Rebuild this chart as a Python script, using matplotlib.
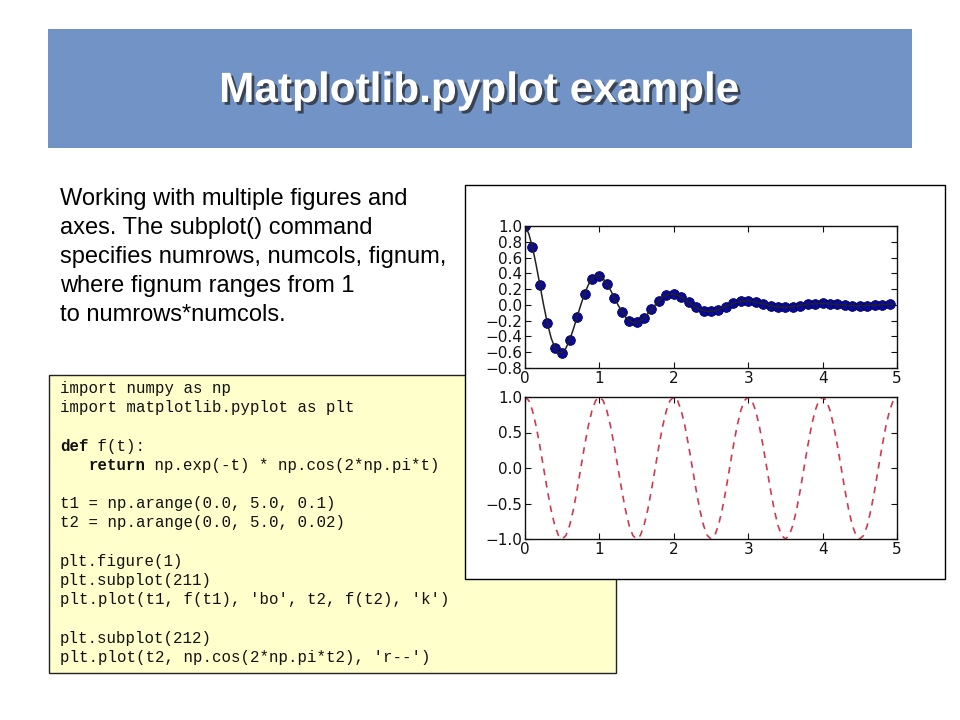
import matplotlib
matplotlib.use("Agg")
import matplotlib.pyplot as plt
import matplotlib.patheffects as pe
from matplotlib.patches import Rectangle
import numpy as np

W, H = 960, 720

# --- data -----------------------------------------------------------------
t_dots = np.arange(0.0, 5.0, 0.1)
f_dots = [1.000, 0.732, 0.253, -0.229, -0.542, -0.607, -0.444, -0.154, 0.139, 0.329,
          0.368, 0.269, 0.093, -0.084, -0.200, -0.223, -0.163, -0.057, 0.051, 0.121,
          0.135, 0.099, 0.034, -0.031, -0.073, -0.082, -0.060, -0.021, 0.019, 0.044,
          0.050, 0.036, 0.013, -0.011, -0.027, -0.030, -0.022, -0.008, 0.007, 0.016,
          0.018, 0.013, 0.005, -0.004, -0.010, -0.011, -0.008, -0.003, 0.003, 0.006]

t_line = np.arange(0.0, 5.0, 0.05)
f_line = [1.000, 0.904, 0.732, 0.506, 0.253, 0.000, -0.229, -0.415, -0.542, -0.607,
          -0.607, -0.549, -0.444, -0.307, -0.154, 0.000, 0.139, 0.251, 0.329, 0.368,
          0.368, 0.333, 0.269, 0.186, 0.093, 0.000, -0.084, -0.152, -0.200, -0.223,
          -0.223, -0.202, -0.163, -0.113, -0.057, 0.000, 0.051, 0.092, 0.121, 0.135,
          0.135, 0.123, 0.099, 0.068, 0.034, 0.000, -0.031, -0.056, -0.073, -0.082,
          -0.082, -0.074, -0.060, -0.042, -0.021, 0.000, 0.019, 0.034, 0.044, 0.050,
          0.050, 0.045, 0.036, 0.025, 0.013, 0.000, -0.011, -0.021, -0.027, -0.030,
          -0.030, -0.027, -0.022, -0.015, -0.008, 0.000, 0.007, 0.013, 0.016, 0.018,
          0.018, 0.017, 0.013, 0.009, 0.005, 0.000, -0.004, -0.008, -0.010, -0.011,
          -0.011, -0.010, -0.008, -0.006, -0.003, 0.000, 0.003, 0.005, 0.006, 0.007]

cos_line = [1.0, 0.951, 0.809, 0.588, 0.309, 0.0, -0.309, -0.588, -0.809, -0.951,
            -1.0, -0.951, -0.809, -0.588, -0.309, 0.0, 0.309, 0.588, 0.809, 0.951,
            1.0, 0.951, 0.809, 0.588, 0.309, 0.0, -0.309, -0.588, -0.809, -0.951,
            -1.0, -0.951, -0.809, -0.588, -0.309, 0.0, 0.309, 0.588, 0.809, 0.951,
            1.0, 0.951, 0.809, 0.588, 0.309, 0.0, -0.309, -0.588, -0.809, -0.951,
            -1.0, -0.951, -0.809, -0.588, -0.309, 0.0, 0.309, 0.588, 0.809, 0.951,
            1.0, 0.951, 0.809, 0.588, 0.309, 0.0, -0.309, -0.588, -0.809, -0.951,
            -1.0, -0.951, -0.809, -0.588, -0.309, 0.0, 0.309, 0.588, 0.809, 0.951,
            1.0, 0.951, 0.809, 0.588, 0.309, 0.0, -0.309, -0.588, -0.809, -0.951,
            -1.0, -0.951, -0.809, -0.588, -0.309, 0.0, 0.309, 0.588, 0.809, 0.951]

x_ticks = [0, 1, 2, 3, 4, 5]
y_ticks_top = [-0.8, -0.6, -0.4, -0.2, 0.0, 0.2, 0.4, 0.6, 0.8, 1.0]
y_ticks_bot = [-1.0, -0.5, 0.0, 0.5, 1.0]

title = "Matplotlib.pyplot example"
body = ["Working with multiple figures and",
        "axes. The subplot() command",
        "specifies numrows, numcols, fignum,",
        "where fignum ranges from 1",
        "to numrows*numcols."]
code = ["import numpy as np",
        "import matplotlib.pyplot as plt",
        "",
        "def f(t):",
        "   return np.exp(-t) * np.cos(2*np.pi*t)",
        "",
        "t1 = np.arange(0.0, 5.0, 0.1)",
        "t2 = np.arange(0.0, 5.0, 0.02)",
        "",
        "plt.figure(1)",
        "plt.subplot(211)",
        "plt.plot(t1, f(t1), 'bo', t2, f(t2), 'k')",
        "",
        "plt.subplot(212)",
        "plt.plot(t2, np.cos(2*np.pi*t2), 'r--')"]
bold_words = ("def", "return")


def fx(px): return px / W
def fy(py): return 1 - py / H
def box(x0, y0, x1, y1, **kw):
    return Rectangle((fx(x0), fy(y1)), fx(x1) - fx(x0), (y1 - y0) / H,
                     transform=fig.transFigure, **kw)


fig = plt.figure(figsize=(W / 100, H / 100), dpi=100)
fig.patch.set_facecolor("white")

# title bar
fig.patches.append(box(48, 29, 912, 148, facecolor="#7193c6", edgecolor="none", zorder=0))
fig.text(fx(480), fy(91), title, ha="center", va="center", color="white",
         fontsize=30.5, fontweight="bold", family="Liberation Sans",
         path_effects=[pe.withSimplePatchShadow(offset=(2, -2), shadow_rgbFace="#222222", alpha=0.7)])

# body text
for i, line in enumerate(body):
    fig.text(fx(60), fy(205 + 29 * i), line, ha="left", va="baseline",
             fontsize=17, family="Liberation Sans", color="black")

# code box
fig.patches.append(box(49, 375, 616, 673, facecolor="#ffffcc", edgecolor="#222222",
                       linewidth=1, zorder=1))
code_fs = 11.3
char_w = 0.6 * code_fs / 72 * 100  # monospace advance in px
for i, line in enumerate(code):
    if not line:
        continue
    y = fy(393 + 19.2 * i)
    kw = dict(ha="left", va="baseline", fontsize=code_fs, family="Liberation Mono",
              color="#111111", zorder=2)
    lead = len(line) - len(line.lstrip())
    word = line.split()[0]
    if word in bold_words:
        fig.text(fx(60 + char_w * lead), y, word, fontweight="bold", **kw)
        fig.text(fx(60 + char_w * (lead + len(word))), y, line[lead + len(word):], **kw)
    else:
        fig.text(fx(60), y, line, **kw)

# chart frame
fig.patches.append(box(465, 185, 945, 579, facecolor="white", edgecolor="black",
                       linewidth=1, zorder=3))

ax1 = fig.add_axes([fx(525), fy(368), (897 - 525) / W, (368 - 226) / H], zorder=4)
ax2 = fig.add_axes([fx(525), fy(539), (897 - 525) / W, (539 - 397) / H], zorder=4)

ax1.plot(t_dots, f_dots, "o", color="#0a0a96", markersize=7, markeredgecolor="#000060",
         markeredgewidth=0.6)
ax1.plot(t_line, f_line, "-", color="#222222", linewidth=1.1)
ax1.set_ylim(-0.8, 1.0)
ax1.set_yticks(y_ticks_top)
ax1.set_yticklabels([f"{v:.1f}".replace("-", "\u2212") for v in y_ticks_top])

ax2.plot(t_line, cos_line, "--", color="#d0384e", linewidth=1.2, dashes=(4, 3.5))
ax2.set_ylim(-1.0, 1.0)
ax2.set_yticks(y_ticks_bot)
ax2.set_yticklabels([f"{v:.1f}".replace("-", "\u2212") for v in y_ticks_bot])

for ax in (ax1, ax2):
    ax.set_xlim(0, 5)
    ax.set_xticks(x_ticks)
    ax.set_xticklabels([str(v) for v in x_ticks])
    ax.set_facecolor("white")
    ax.tick_params(direction="in", top=True, right=True, length=4, width=0.8,
                   labelsize=11, pad=2, colors="#111111")
    for s in ax.spines.values():
        s.set_linewidth(1.0)
        s.set_color("#111111")

fig.savefig("out.png", dpi=100)
